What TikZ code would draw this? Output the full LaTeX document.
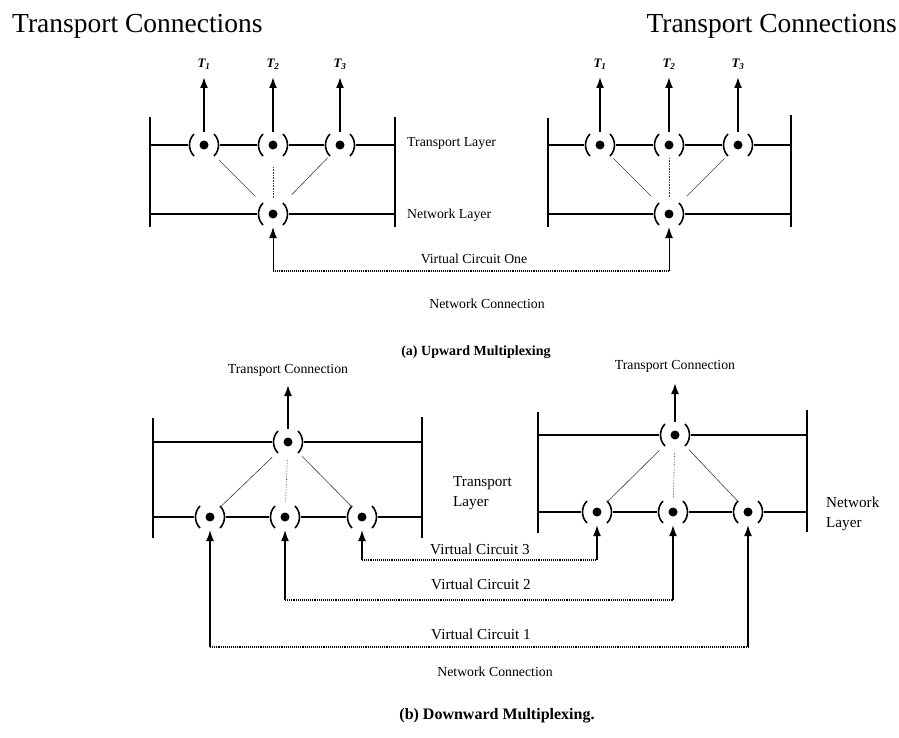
\documentclass[tikz,border=0pt]{standalone}
\usepackage{fontspec}
\setmainfont{Liberation Serif}
\usetikzlibrary{arrows.meta}
\begin{document}
\begin{tikzpicture}[x=1pt,y=-1pt,
  mux/.style={rectangle,minimum width=32pt,minimum height=26pt,inner sep=0pt,
    path picture={
      \fill (path picture bounding box.center) circle[radius=4.5pt];
      \draw[line width=1.6pt] ([shift={(-10pt,11pt)}]path picture bounding box.center)
        .. controls ([shift={(-16pt,5pt)}]path picture bounding box.center)
        and ([shift={(-16pt,-5pt)}]path picture bounding box.center)
        .. ([shift={(-10pt,-11pt)}]path picture bounding box.center);
      \draw[line width=1.6pt] ([shift={(10pt,11pt)}]path picture bounding box.center)
        .. controls ([shift={(16pt,5pt)}]path picture bounding box.center)
        and ([shift={(16pt,-5pt)}]path picture bounding box.center)
        .. ([shift={(10pt,-11pt)}]path picture bounding box.center);
    }},
  bar/.style={line width=1.5pt},
  layer/.style={line width=1.2pt},
  inner/.style={line width=0.6pt, black!75},
  innerdot/.style={inner, densely dotted},
  up/.style={line width=1.8pt, -{Latex[length=11pt,width=8pt]}},
  feed/.style={line width=1.1pt, -{Latex[length=11pt,width=8pt]}},
  feedthin/.style={line width=0.8pt, -{Latex[length=11pt,width=8pt]}},
  vcline/.style={line width=1.1pt, densely dotted},
  labA/.style={font=\fontsize{13.8}{16}\selectfont, inner sep=0pt},
  labB/.style={font=\fontsize{15.2}{20}\selectfont, inner sep=0pt},
  tlab/.style={font=\fontsize{13}{15}\selectfont\bfseries\itshape, inner sep=0pt},
  capA/.style={font=\fontsize{14}{16}\selectfont\bfseries, inner sep=0pt},
  capB/.style={font=\fontsize{16}{18}\selectfont\bfseries, inner sep=0pt},
  head/.style={font=\fontsize{27.5}{30}\selectfont, inner sep=0pt}
]
\useasboundingbox (0,0) rectangle (899,738);
\fill[white] (0,0) rectangle (899,738);

% headers
\node[head, anchor=base west] (hl) at (12,33) {Transport Connections};
\node[head, anchor=base east] (hr) at (897,33) {Transport Connections};

% ---------- (a) left ----------
\node[mux] (tlA) at (204,145) {};
\node[mux] (tlB) at (273,145) {};
\node[mux] (tlC) at (340,145) {};
\node[mux] (tlN) at (273,214) {};
\coordinate (tlL1) at (150,117); \coordinate (tlL2) at (150,227);
\coordinate (tlR1) at (395,117); \coordinate (tlR2) at (395,227);
\draw[bar] (tlL1) -- (tlL2);
\draw[bar] (tlR1) -- (tlR2);
\draw[layer] (tlL1 |- tlA) -- (tlA.west);
\draw[layer] (tlA.east) -- (tlB.west);
\draw[layer] (tlB.east) -- (tlC.west);
\draw[layer] (tlC.east) -- (tlR1 |- tlC);
\draw[layer] (tlL1 |- tlN) -- (tlN.west);
\draw[layer] (tlN.east) -- (tlR1 |- tlN);
\draw[inner, shorten <=25pt, shorten >=21pt] (tlN.center) -- (tlA.center);
\draw[innerdot, shorten <=16pt, shorten >=22pt] (tlN.center) -- (tlB.center);
\draw[inner, shorten <=27pt, shorten >=18pt] (tlN.center) -- (tlC.center);
\coordinate (tlT1) at (204,77); \coordinate (tlT2) at (273,77); \coordinate (tlT3) at (340,77);
\draw[up] (tlA.north) -- (tlT1);
\draw[up] (tlB.north) -- (tlT2);
\draw[up] (tlC.north) -- (tlT3);
\node[tlab] (tlT1l) at (204,64) {T\textsubscript{1}};
\node[tlab] (tlT2l) at (273,64) {T\textsubscript{2}};
\node[tlab] (tlT3l) at (340,64) {T\textsubscript{3}};
\node[labA, anchor=west] (tlTL) at (407,143) {Transport Layer};
\node[labA, anchor=west] (tlNL) at (407,215) {Network Layer};

% ---------- (a) right ----------
\node[mux] (trA) at (600,145) {};
\node[mux] (trB) at (669,145) {};
\node[mux] (trC) at (738,145) {};
\node[mux] (trN) at (669,214) {};
\coordinate (trL1) at (548,118); \coordinate (trL2) at (548,227);
\coordinate (trR1) at (791,115); \coordinate (trR2) at (791,227);
\draw[bar] (trL1) -- (trL2);
\draw[bar] (trR1) -- (trR2);
\draw[layer] (trL1 |- trA) -- (trA.west);
\draw[layer] (trA.east) -- (trB.west);
\draw[layer] (trB.east) -- (trC.west);
\draw[layer] (trC.east) -- (trR1 |- trC);
\draw[layer] (trL1 |- trN) -- (trN.west);
\draw[layer] (trN.east) -- (trR1 |- trN);
\draw[inner, shorten <=25pt, shorten >=19pt] (trN.center) -- (trA.center);
\draw[innerdot, shorten <=17pt, shorten >=12pt] (trN.center) -- (trB.center);
\draw[inner, shorten <=25pt, shorten >=19pt] (trN.center) -- (trC.center);
\coordinate (trT1) at (600,77); \coordinate (trT2) at (669,77); \coordinate (trT3) at (738,77);
\draw[up] (trA.north) -- (trT1);
\draw[up] (trB.north) -- (trT2);
\draw[up] (trC.north) -- (trT3);
\node[tlab] (trT1l) at (600,64) {T\textsubscript{1}};
\node[tlab] (trT2l) at (669,64) {T\textsubscript{2}};
\node[tlab] (trT3l) at (738,64) {T\textsubscript{3}};

% virtual circuit one
\coordinate (vcaL) at (273,271); \coordinate (vcaR) at (669,271);
\draw[vcline] (vcaL) -- (vcaR);
\draw[feedthin] (vcaL) -- (tlN.south);
\draw[feedthin] (vcaR) -- (trN.south);
\node[labA] (vcaT) at (474,259) {Virtual Circuit One};
\node[labA] (ncaT) at (487,304) {Network Connection};
\node[capA] (capa) at (476,352) {(a) Upward Multiplexing};

% ---------- (b) left ----------
\node[mux] (blT) at (288,442) {};
\node[mux] (bl1) at (210,517) {};
\node[mux] (bl2) at (285,517) {};
\node[mux] (bl3) at (362,517) {};
\coordinate (blL1) at (153,418); \coordinate (blL2) at (153,538);
\coordinate (blR1) at (422,417); \coordinate (blR2) at (422,538);
\draw[bar] (blL1) -- (blL2);
\draw[bar] (blR1) -- (blR2);
\draw[layer] (blL1 |- blT) -- (blT.west);
\draw[layer] (blT.east) -- (blR1 |- blT);
\draw[layer] (blL1 |- bl1) -- (bl1.west);
\draw[layer] (bl1.east) -- (bl2.west);
\draw[layer] (bl2.east) -- (bl3.west);
\draw[layer] (bl3.east) -- (blR1 |- bl3);
\draw[inner, shorten <=22pt, shorten >=14pt] (blT.center) -- (bl1.center);
\draw[innerdot, shorten <=18pt, shorten >=14pt] (blT.center) -- (bl2.center);
\draw[inner, shorten <=20pt, shorten >=14pt] (blT.center) -- (bl3.center);
\coordinate (blUp) at (288,385);
\draw[up] (blT.north) -- (blUp);
\node[labA] (blTC) at (288,370) {Transport Connection};
\node[labB, anchor=west, align=left] (blTL) at (453,493) {Transport\\Layer};

% ---------- (b) right ----------
\node[mux] (brT) at (675,435) {};
\node[mux] (br1) at (597,512) {};
\node[mux] (br2) at (673,512) {};
\node[mux] (br3) at (748,512) {};
\coordinate (brL1) at (538,412); \coordinate (brL2) at (538,533);
\coordinate (brR1) at (807,410); \coordinate (brR2) at (807,532);
\draw[bar] (brL1) -- (brL2);
\draw[bar] (brR1) -- (brR2);
\draw[layer] (brL1 |- brT) -- (brT.west);
\draw[layer] (brT.east) -- (brR1 |- brT);
\draw[layer] (brL1 |- br1) -- (br1.west);
\draw[layer] (br1.east) -- (br2.west);
\draw[layer] (br2.east) -- (br3.west);
\draw[layer] (br3.east) -- (brR1 |- br3);
\draw[inner, shorten <=22pt, shorten >=14pt] (brT.center) -- (br1.center);
\draw[innerdot, shorten <=18pt, shorten >=14pt] (brT.center) -- (br2.center);
\draw[inner, shorten <=20pt, shorten >=14pt] (brT.center) -- (br3.center);
\coordinate (brUp) at (675,383);
\draw[up] (brT.north) -- (brUp);
\node[labA] (brTC) at (675,366) {Transport Connection};
\node[labB, anchor=west, align=left] (brNL) at (826,514) {Network\\Layer};

% virtual circuits
\coordinate (vc3L) at (362,560); \coordinate (vc3R) at (597,560);
\coordinate (vc2L) at (285,600); \coordinate (vc2R) at (673,600);
\coordinate (vc1L) at (210,647); \coordinate (vc1R) at (748,647);
\draw[vcline] (vc3L) -- (vc3R);
\draw[vcline] (vc2L) -- (vc2R);
\draw[vcline] (vc1L) -- (vc1R);
\draw[feed] (vc3L) -- (bl3.south);
\draw[feed] (vc3R) -- (br1.south);
\draw[feed] (vc2L) -- (bl2.south);
\draw[feed] (vc2R) -- (br2.south);
\draw[feed] (vc1L) -- (bl1.south);
\draw[feed] (vc1R) -- (br3.south);
\node[labB] (vc3T) at (480,549) {Virtual Circuit 3};
\node[labB] (vc2T) at (481,584) {Virtual Circuit 2};
\node[labB] (vc1T) at (481,634) {Virtual Circuit 1};
\node[labA] (ncbT) at (495,672) {Network Connection};
\node[capB] (capb) at (497,716) {(b) Downward Multiplexing.};
\end{tikzpicture}
\end{document}
